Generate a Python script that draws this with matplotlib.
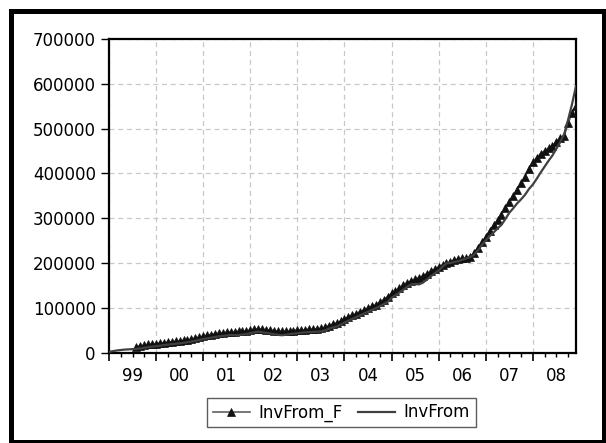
import matplotlib
matplotlib.use("Agg")
import matplotlib.pyplot as plt
import matplotlib.patches as mpatches
import numpy as np

plt.rcParams['font.family'] = ['DejaVu Sans']

# Monthly data 1999M01 - 2008M12 (values in thousands)
inv_from = [
    1.5, 3, 4.5, 5.5, 6.5, 7, 7.5, 8, 9, 10.5, 12, 13,            # 1999
    14, 15, 16.5, 17.5, 18.5, 19.5, 20.5, 21.5, 23, 24.5, 26, 28,  # 2000
    30, 31.5, 33, 34.5, 36, 37, 38, 39, 38.5, 39, 40, 41,          # 2001
    43, 45, 46.5, 45.5, 44, 42.5, 41, 39.5, 38.5, 39.5, 41, 42,    # 2002
    43, 44, 45, 45.5, 46, 46.5, 47, 49, 53, 56, 58, 62,            # 2003
    67, 71, 75, 79, 83, 87, 91, 95, 99, 103, 108, 113,             # 2004
    122, 128, 134, 140, 147, 152, 153, 152, 156, 163, 170, 177,    # 2005
    183, 192, 199, 200, 202, 204, 207, 210, 213, 218, 228, 240,    # 2006
    250, 260, 268, 277, 285, 298, 312, 322, 333, 342, 352, 365,    # 2007
    375, 388, 402, 415, 428, 440, 455, 470, 488, 520, 555, 595,    # 2008
]
# Forecast series starts 1999M08
inv_from_f_start = 7
inv_from_f = [
    13, 15, 16, 18, 19,                                            # 1999
    20, 21, 22, 23, 24, 25, 26, 27, 28, 30, 32, 34,                # 2000
    36, 38, 40, 42, 43, 44, 45, 46, 46, 47, 47, 48,                # 2001
    50, 52, 53, 52, 51, 50, 49, 48, 47, 47, 48, 49,                # 2002
    50, 50, 51, 52, 52, 53, 54, 56, 60, 63, 66, 70,                # 2003
    75, 79, 83, 87, 91, 95, 99, 103, 107, 112, 118, 125,           # 2004
    132, 138, 144, 150, 156, 160, 163, 167, 171, 176, 181, 186,    # 2005
    191, 196, 199, 203, 206, 208, 210, 212, 214, 222, 234, 246,    # 2006
    258, 272, 284, 296, 308, 322, 337, 350, 362, 378, 392, 410,    # 2007
    425, 435, 444, 450, 456, 462, 470, 478, 484, 512, 535, 550,    # 2008
]
year_labels = ["99", "00", "01", "02", "03", "04", "05", "06", "07", "08"]
y_ticks = [0, 100000, 200000, 300000, 400000, 500000, 600000, 700000]

W, H = 606, 443
fig = plt.figure(figsize=(W / 100, H / 100), dpi=100)
fig.patch.set_facecolor('white')

ax = fig.add_axes([109 / W, 1 - 352.5 / H, (576 - 109) / W, (352.5 - 39) / H])

t_a = np.arange(len(inv_from))
t_f = np.arange(inv_from_f_start, inv_from_f_start + len(inv_from_f))
a_vals = np.array(inv_from) * 1000
f_vals = np.array(inv_from_f) * 1000

ax.plot(t_f, f_vals, color='#606060', lw=1.2, marker='^', markersize=5.3,
        markerfacecolor='#111111', markeredgecolor='#111111', markeredgewidth=0.5,
        label='InvFrom_F', zorder=3)
ax.plot(t_a, a_vals, color='#404040', lw=1.6, label='InvFrom', zorder=4)

ax.set_xlim(0, len(inv_from) - 1)
ax.set_ylim(0, 700000)

years_pos = np.arange(0, len(inv_from), 12)
ax.set_xticks(years_pos)
ax.set_xticklabels([''] * len(years_pos))
ax.set_xticks(np.arange(0, len(inv_from), 3), minor=True)
ax.tick_params(axis='x', which='major', direction='out', length=6, width=1.2, color='black')
ax.tick_params(axis='x', which='minor', direction='out', length=3.2, width=1.0, color='black')

ax.set_yticks(y_ticks)
ax.set_yticklabels([str(v) for v in y_ticks])
ax.tick_params(axis='y', which='major', direction='out', length=6, width=1.0, pad=3.5,
               labelsize=12, color='black')

# year labels centred within each year
sec = ax.secondary_xaxis('bottom')
sec.set_xticks(years_pos + 6)
sec.set_xticklabels(year_labels)
sec.tick_params(length=0, pad=10.5, labelsize=12)
sec.spines['bottom'].set_visible(False)

ax.grid(True, which='major', color='#c8c8c8', linestyle=(0, (4, 3)), linewidth=0.9)
ax.set_axisbelow(True)
for s in ax.spines.values():
    s.set_linewidth(1.6)
    s.set_color('black')

leg = fig.legend(loc='center', bbox_to_anchor=(341.5 / W, 1 - 412.5 / H), ncol=2,
                 fontsize=12, frameon=True, fancybox=False, shadow=False,
                 handlelength=2.2, handletextpad=0.55, columnspacing=0.9,
                 borderpad=0.35, borderaxespad=0)
leg.get_frame().set_edgecolor('#333333')
leg.get_frame().set_linewidth(1.0)

# outer frame
fig.add_artist(mpatches.Rectangle((10.5 / W, 1.5 / H), (603.5 - 10.5) / W, (441.5 - 10.5) / H,
                                  transform=fig.transFigure, fill=False,
                                  edgecolor='black', linewidth=3.6))

fig.savefig('out.png', dpi=100, facecolor='white')
